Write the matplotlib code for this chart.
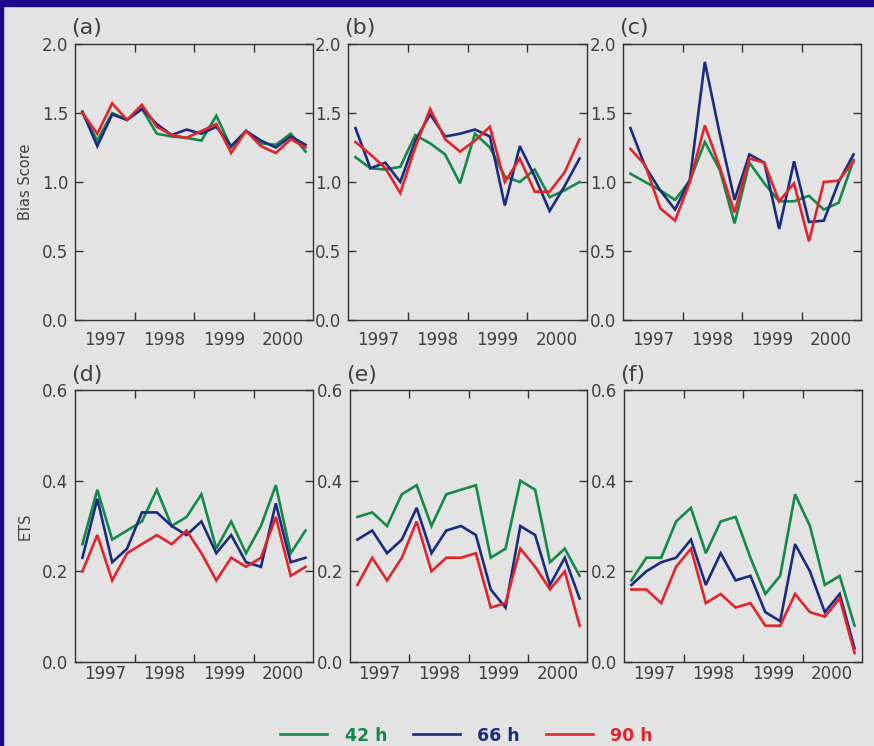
import numpy as np
import matplotlib
matplotlib.use("Agg")
import matplotlib.pyplot as plt
from matplotlib.lines import Line2D

# 16 seasons, 4 per year (1997-2000)
years = ["1997", "1998", "1999", "2000"]
nPts = 16
series = ["42 h", "66 h", "90 h"]
colors = ["#14894a", "#1c2c7c", "#e1252d"]

# Bias score panels (a), (b), (c)
bias_a = {
    "42 h": [1.50, 1.30, 1.50, 1.45, 1.53, 1.35, 1.33, 1.32, 1.30, 1.48, 1.25, 1.37, 1.28, 1.27, 1.35, 1.22],
    "66 h": [1.51, 1.26, 1.49, 1.45, 1.53, 1.42, 1.34, 1.38, 1.35, 1.40, 1.26, 1.37, 1.30, 1.25, 1.33, 1.27],
    "90 h": [1.50, 1.35, 1.57, 1.45, 1.56, 1.40, 1.34, 1.32, 1.37, 1.42, 1.21, 1.37, 1.26, 1.21, 1.31, 1.25],
}
bias_b = {
    "42 h": [1.18, 1.10, 1.09, 1.11, 1.34, 1.28, 1.20, 0.99, 1.35, 1.25, 1.04, 1.00, 1.09, 0.89, 0.94, 1.00],
    "66 h": [1.39, 1.10, 1.14, 1.00, 1.30, 1.49, 1.33, 1.35, 1.38, 1.33, 0.83, 1.26, 1.04, 0.79, 0.97, 1.17],
    "90 h": [1.29, 1.20, 1.10, 0.92, 1.25, 1.53, 1.31, 1.22, 1.30, 1.40, 1.00, 1.17, 0.93, 0.93, 1.07, 1.31],
}
bias_c = {
    "42 h": [1.06, 1.00, 0.94, 0.87, 1.01, 1.29, 1.09, 0.70, 1.14, 0.99, 0.86, 0.86, 0.90, 0.80, 0.85, 1.16],
    "66 h": [1.39, 1.11, 0.94, 0.80, 1.02, 1.87, 1.35, 0.87, 1.20, 1.14, 0.66, 1.15, 0.71, 0.72, 1.00, 1.20],
    "90 h": [1.24, 1.12, 0.81, 0.72, 1.00, 1.41, 1.11, 0.78, 1.17, 1.14, 0.86, 0.99, 0.57, 1.00, 1.01, 1.15],
}

# ETS panels (d), (e), (f)
ets_d = {
    "42 h": [0.26, 0.38, 0.27, 0.29, 0.31, 0.38, 0.30, 0.32, 0.37, 0.25, 0.31, 0.24, 0.30, 0.39, 0.24, 0.29],
    "66 h": [0.23, 0.36, 0.22, 0.25, 0.33, 0.33, 0.30, 0.28, 0.31, 0.24, 0.28, 0.22, 0.21, 0.35, 0.22, 0.23],
    "90 h": [0.20, 0.28, 0.18, 0.24, 0.26, 0.28, 0.26, 0.29, 0.24, 0.18, 0.23, 0.21, 0.23, 0.32, 0.19, 0.21],
}
ets_e = {
    "42 h": [0.32, 0.33, 0.30, 0.37, 0.39, 0.30, 0.37, 0.38, 0.39, 0.23, 0.25, 0.40, 0.38, 0.22, 0.25, 0.19],
    "66 h": [0.27, 0.29, 0.24, 0.27, 0.34, 0.24, 0.29, 0.30, 0.28, 0.16, 0.12, 0.30, 0.28, 0.17, 0.23, 0.14],
    "90 h": [0.17, 0.23, 0.18, 0.23, 0.31, 0.20, 0.23, 0.23, 0.24, 0.12, 0.13, 0.25, 0.21, 0.16, 0.20, 0.08],
}
ets_f = {
    "42 h": [0.18, 0.23, 0.23, 0.31, 0.34, 0.24, 0.31, 0.32, 0.23, 0.15, 0.19, 0.37, 0.30, 0.17, 0.19, 0.08],
    "66 h": [0.17, 0.20, 0.22, 0.23, 0.27, 0.17, 0.24, 0.18, 0.19, 0.11, 0.09, 0.26, 0.20, 0.11, 0.15, 0.03],
    "90 h": [0.16, 0.16, 0.13, 0.21, 0.25, 0.13, 0.15, 0.12, 0.13, 0.08, 0.08, 0.15, 0.11, 0.10, 0.14, 0.02],
}

panels = [
    ("(a)", bias_a, "bias"), ("(b)", bias_b, "bias"), ("(c)", bias_c, "bias"),
    ("(d)", ets_d, "ets"), ("(e)", ets_e, "ets"), ("(f)", ets_f, "ets"),
]

bg = "#e3e3e3"
txt = "#404040"
plt.rcParams['font.family'] = ['DejaVu Sans']

fig = plt.figure(figsize=(8.74, 7.46), dpi=100, facecolor=bg)
W, H = 874.0, 746.0

# axes boxes in pixels: left, top, right, bottom
boxes = [
    (75, 44, 313, 320), (348, 44, 587, 320), (623, 44, 861, 320),
    (75, 390, 313, 662), (350, 390, 587, 662), (624, 390, 862, 662),
]

x = np.arange(nPts) * 0.25 + 0.125

for i, (lab, data, kind) in enumerate(panels):
    l, t, r, b = boxes[i]
    ax = fig.add_axes([l / W, 1 - b / H, (r - l) / W, (b - t) / H])
    ax.set_facecolor(bg)
    for s, c in zip(series, colors):
        ax.plot(x, data[s], color=c, lw=1.9, solid_joinstyle="miter")
    ax.set_xlim(0, 4)
    if kind == "bias":
        ax.set_ylim(0, 2.0)
        ax.set_yticks([0.0, 0.5, 1.0, 1.5, 2.0])
        ax.set_yticklabels(["0.0", "0.5", "1.0", "1.5", "2.0"])
    else:
        ax.set_ylim(0, 0.6)
        ax.set_yticks([0.0, 0.2, 0.4, 0.6])
        ax.set_yticklabels(["0.0", "0.2", "0.4", "0.6"])
    ax.set_xticks([1, 2, 3])
    ax.set_xticklabels([])
    ax.set_xticks([0.5, 1.5, 2.5, 3.5], minor=True)
    ax.set_xticklabels(years, minor=True)
    ax.tick_params(axis="x", which="major", direction="in", length=6, width=1,
                   top=True, bottom=True, color="#333333")
    ax.tick_params(axis="x", which="minor", length=0, pad=8 if kind == "bias" else 2.5,
                   labelsize=12, labelcolor=txt)
    ax.tick_params(axis="y", direction="in", length=6, width=1, left=True, right=True,
                   labelsize=12, labelcolor=txt, color="#333333", pad=5)
    for sp in ax.spines.values():
        sp.set_color("#333333")
        sp.set_linewidth(1.0)
    ax.text(-0.015, 1.02, lab, transform=ax.transAxes, ha="left", va="bottom",
            fontsize=16, color=txt)
    if i == 0:
        ax.set_ylabel("Bias Score", fontsize=10.5, color=txt)
        ax.yaxis.set_label_coords(-42 / 238, 0.5)
    if i == 3:
        ax.set_ylabel("ETS", fontsize=10.5, color=txt)
        ax.yaxis.set_label_coords(-42 / 238, 0.5)

# legend along the bottom
handles = [Line2D([0], [0], color=c, lw=1.9) for c in colors]
leg = fig.legend(handles, series, loc="center", bbox_to_anchor=(0.534, 0.014),
                 ncol=3, frameon=False, handlelength=2.7, handletextpad=1.0,
                 columnspacing=1.5, prop={"weight": "bold", "size": 12.5})
for t, c in zip(leg.get_texts(), colors):
    t.set_color(c)

# blue frame on the top and left edges
fig.patches.append(plt.Rectangle((0, 1 - 6 / H), 1, 6 / H, transform=fig.transFigure,
                                 color="#1c0a8a", zorder=10))
fig.patches.append(plt.Rectangle((0, 0), 3 / W, 1, transform=fig.transFigure,
                                 color="#1c0a8a", zorder=10))

fig.savefig("out.png", dpi=100, facecolor=bg)
